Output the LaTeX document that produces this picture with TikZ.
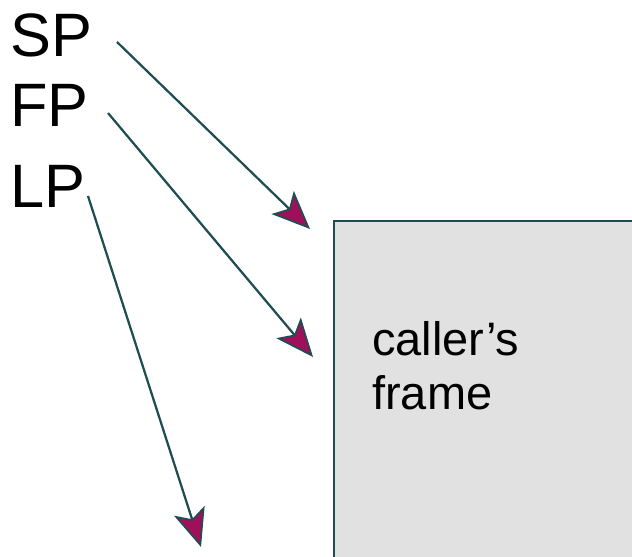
\documentclass[tikz,border=0pt]{standalone}
\usepackage{fontspec}
\setmainfont{Liberation Sans}
\usetikzlibrary{arrows.meta}
\definecolor{bleupetrole}{RGB}{30,77,82}
\definecolor{magenta}{RGB}{160,16,90}
\definecolor{grisclair}{RGB}{225,225,225}

\begin{document}
\begin{tikzpicture}[
	pointeur/.style={font=\fontsize{43.6}{50}\selectfont, inner sep=0pt, anchor=base west},
	fleche/.style={draw=bleupetrole, line width=1.6pt,
		-{Stealth[length=0.95cm, width=0.8cm, inset=0.22cm, fill=magenta, line width=1.2pt]}}
	]
		\clip (0,0) rectangle (15.8,13.925);
		% Cadre de l'appelant
		\filldraw[fill=grisclair, draw=bleupetrole, line width=2.1pt] (8.35,8.4) rectangle (16.5,-1);
		\node[inner sep=0pt, anchor=base west, align=left, font=\fontsize{33.4}{39}\selectfont] (cadre) at (9.3,3.675) {caller’s\\frame};
		% Registres
		\node[pointeur] (sp) at (0.25,12.5) {SP};
		\node[pointeur] (fp) at (0.25,10.75) {FP};
		\node[pointeur] (lp) at (0.25,8.725) {LP};
		% Départs et arrivées des flèches
		\coordinate (sp-dep) at (2.925,12.875);
		\coordinate (sp-arr) at (7.75,8.2);
		\coordinate (fp-dep) at (2.7,11.1);
		\coordinate (fp-arr) at (7.825,5.0);
		\coordinate (lp-dep) at (2.2,9.025);
		\coordinate (lp-arr) at (5.025,0.25);
		% Flèches
		\draw[fleche] (sp-dep) -- (sp-arr);
		\draw[fleche] (fp-dep) -- (fp-arr);
		\draw[fleche] (lp-dep) -- (lp-arr);
\end{tikzpicture}
\end{document}
